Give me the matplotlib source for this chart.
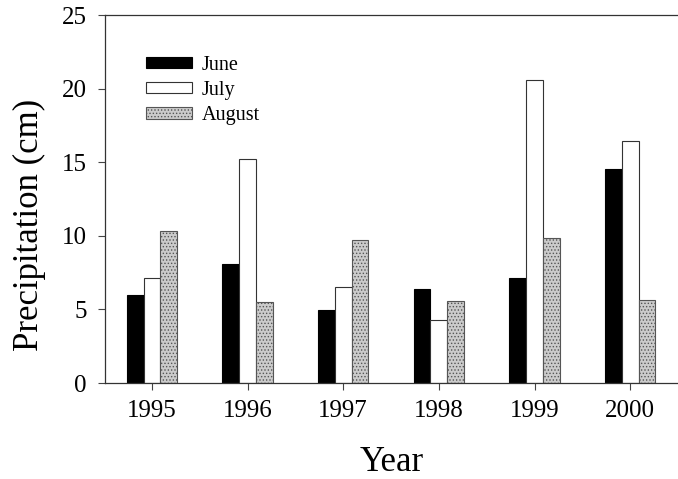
import matplotlib
matplotlib.use("Agg")
import matplotlib.pyplot as plt
import numpy as np

years = ["1995", "1996", "1997", "1998", "1999", "2000"]
june = [5.95, 8.1, 4.93, 6.4, 7.1, 14.57]
july = [7.14, 15.25, 6.55, 4.3, 20.6, 16.45]
august = [10.3, 5.5, 9.7, 5.59, 9.86, 5.64]
yticks = [0, 5, 10, 15, 20, 25]

plt.rcParams['font.family'] = ['Liberation Serif', 'DejaVu Serif']
plt.rcParams['hatch.color'] = '#a0a0a0'
plt.rcParams['hatch.linewidth'] = 0.6

fig = plt.figure(figsize=(6.78, 4.79), dpi=100)
ax = fig.add_axes([105 / 678, 96 / 479, 573 / 678, 368 / 479])

x = np.arange(len(years))
w = 0.175
ax.bar(x - w, june, w, color='black', edgecolor='black', linewidth=0.8, label='June')
ax.bar(x, july, w, color='white', edgecolor='#333333', linewidth=0.8, label='July')
ax.bar(x + w, august, w, color='#cbcbcb', edgecolor='#555555', linewidth=0.8,
       hatch='.....', label='August')

ax.set_xlim(-0.49, 5.5)
ax.set_ylim(0, 25)
ax.set_yticks(yticks)
ax.set_yticklabels([str(v) for v in yticks], fontsize=18)
ax.set_xticks(x)
ax.set_xticklabels(years, fontsize=18)
ax.tick_params(axis='both', direction='out', length=5, width=0.8, color='#444444')
ax.tick_params(axis='x', pad=7)
ax.tick_params(axis='y', pad=8)
ax.spines['right'].set_visible(False)
for s in ['left', 'top', 'bottom']:
    ax.spines[s].set_linewidth(0.9)
    ax.spines[s].set_color('#333333')

ax.set_xlabel('Year', fontsize=25)
ax.xaxis.set_label_coords(0.5, -0.17)
ax.set_ylabel('Precipitation (cm)', fontsize=25)
ax.yaxis.set_label_coords(-0.103, 0.43)

leg = ax.legend(loc='upper left', bbox_to_anchor=(0.072, 0.889), frameon=False,
                fontsize=14.5, handlelength=2.25, handleheight=0.5,
                handletextpad=0.5, labelspacing=0.3, borderpad=0,
                borderaxespad=0)

fig.savefig('out.png', dpi=100)
